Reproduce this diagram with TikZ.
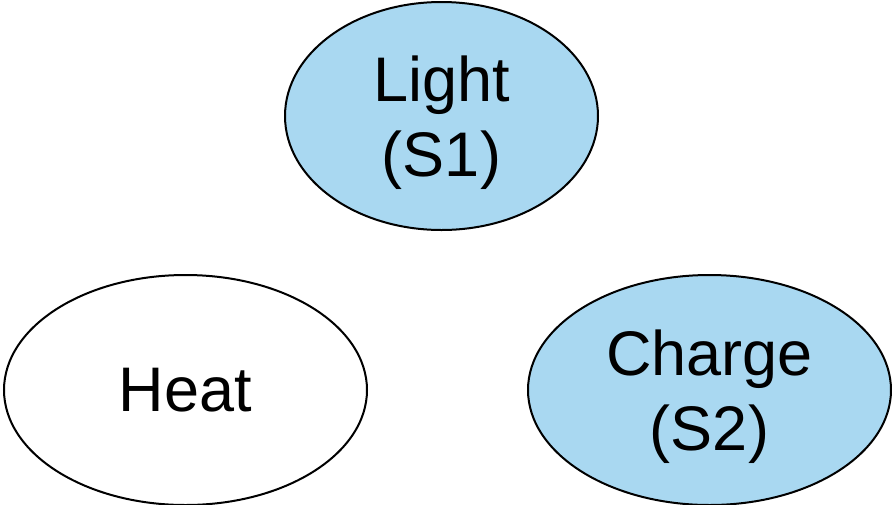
\documentclass[tikz,border=0pt]{standalone}
\usepackage{fontspec}
\setmainfont{Liberation Sans}
\usetikzlibrary{shapes.geometric}
\definecolor{skyfill}{RGB}{169,216,241}
\tikzset{
  blob/.style={ellipse, draw=black, line width=2pt, inner sep=0pt,
    align=center, font=\fontsize{63}{75}\selectfont},
  topblob/.style={blob, minimum width=313pt, minimum height=228pt},
  lowblob/.style={blob, minimum width=363pt, minimum height=230pt},
  twoline/.style={text depth=0pt}
}
\begin{document}
\begin{tikzpicture}[x=1pt,y=-1pt]
\useasboundingbox (0,0) rectangle (892,504);
\node[topblob, twoline, fill=skyfill] (light) at (441.5,116) {Light\\(S1)};
\node[lowblob, fill=white] (heat) at (185.5,390) {Heat};
\node[lowblob, twoline, fill=skyfill] (charge) at (709.5,390) {Charge\\(S2)};
\end{tikzpicture}
\end{document}
